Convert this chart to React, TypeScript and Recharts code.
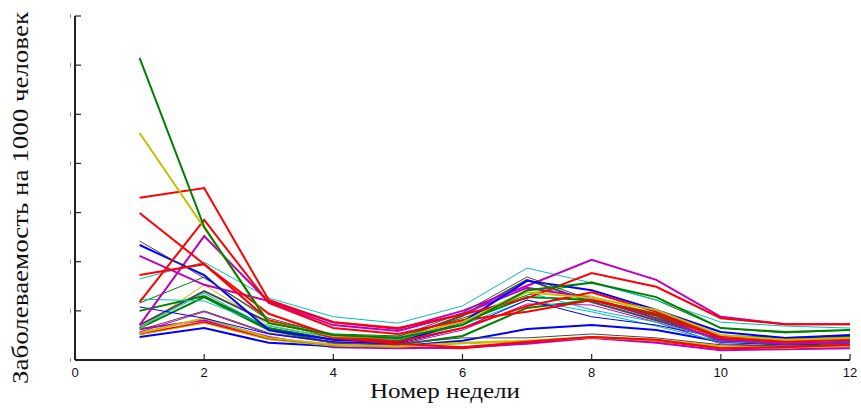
import { LineChart, Line, XAxis, YAxis } from "recharts"

const weeks = [1, 2, 3, 4, 5, 6, 7, 8, 9, 10, 11, 12]
const xTicks = [0, 2, 4, 6, 8, 10, 12]
const yTicks = [0, 10, 20, 30, 40, 50, 60, 70]

// заболеваемость по неделям (на 1000 человек)
const greenPeak = [61.5, 27.1, 7.5, 5.1, 4.5, 7.1, 14.2, 15.7, 12.8, 6.5, 5.7, 6.1]
const yellowPeak = [46.2, 26.9, 7.7, 4.9, 4.5, 7.7, 13.8, 12.6, 10.2, 5.1, 4.1, 4.5]
const redA = [33.0, 35.0, 12.2, 7.7, 6.5, 9.2, 12.6, 17.7, 14.9, 8.5, 7.3, 7.3]
const redB = [29.9, 19.5, 9.4, 4.9, 3.7, 6.5, 11.0, 13.8, 9.8, 4.9, 4.1, 4.5]
const redC = [11.8, 28.5, 11.6, 6.5, 5.3, 8.1, 9.8, 12.2, 9.2, 4.5, 3.7, 4.1]
const redD = [17.3, 19.5, 8.1, 4.5, 3.3, 2.6, 3.7, 4.7, 4.1, 2.4, 2.6, 3.1]
const grayA = [24.2, 16.7, 8.5, 5.1, 4.7, 9.6, 16.9, 12.2, 8.5, 4.9, 4.1, 4.5]
const blueA = [23.4, 17.3, 6.1, 4.1, 3.5, 7.7, 16.1, 14.2, 10.2, 5.7, 4.5, 5.1]
const magentaA = [21.2, 15.3, 12.0, 7.7, 6.3, 10.0, 15.1, 20.4, 16.3, 8.8, 7.3, 7.3]
const magentaB = [7.1, 25.2, 11.8, 7.1, 5.9, 9.4, 14.7, 12.6, 8.5, 4.1, 3.3, 3.7]
const cyanA = [16.5, 19.9, 12.6, 8.8, 7.5, 11.0, 18.7, 15.7, 12.2, 7.7, 6.9, 6.5]
const cyanB = [12.4, 12.0, 6.9, 4.5, 4.1, 7.3, 13.8, 10.2, 7.7, 4.1, 3.7, 4.1]
const greenA = [11.6, 16.9, 8.1, 5.3, 4.9, 8.5, 13.2, 15.9, 12.2, 6.5, 5.5, 6.1]
const greenB = [10.0, 13.0, 6.5, 4.1, 3.9, 7.7, 12.8, 12.2, 9.4, 4.9, 4.5, 4.9]
const blueB = [10.8, 8.5, 5.3, 3.7, 3.3, 6.5, 12.2, 8.8, 7.1, 4.5, 3.7, 4.1]
const grayB = [7.1, 14.0, 7.7, 4.9, 4.3, 9.0, 16.3, 11.8, 8.1, 4.1, 3.3, 3.7]
const cyanC = [6.7, 13.6, 6.5, 4.1, 3.7, 7.1, 12.2, 9.8, 6.9, 3.7, 3.3, 3.5]
const yellowA = [6.3, 15.3, 7.1, 4.5, 4.1, 8.1, 14.2, 13.0, 9.4, 4.5, 3.9, 4.3]
const grayC = [6.1, 10.0, 5.5, 3.7, 3.3, 4.5, 4.5, 5.3, 4.5, 3.1, 2.8, 3.1]
const magentaC = [5.7, 9.8, 5.3, 3.5, 3.1, 6.1, 11.4, 11.2, 7.7, 3.3, 2.8, 3.1]
const yellowB = [5.5, 8.5, 4.5, 3.1, 2.8, 3.5, 3.9, 4.7, 4.1, 2.8, 2.6, 3.1]
const yellowC = [5.1, 7.5, 4.1, 2.8, 2.6, 3.3, 3.7, 4.5, 3.9, 2.6, 2.4, 2.8]
const blueC = [4.7, 6.5, 3.5, 2.8, 2.8, 3.9, 6.3, 7.1, 6.1, 3.7, 3.3, 3.5]
const magentaD = [6.3, 8.1, 4.7, 2.6, 2.4, 2.6, 3.3, 4.5, 3.5, 2.0, 2.2, 2.4]
const redE = [5.3, 7.7, 4.3, 3.1, 2.6, 2.4, 3.5, 4.7, 3.9, 2.4, 2.6, 2.8]
const greenC = [6.5, 12.8, 6.1, 3.5, 3.1, 4.9, 10.6, 12.2, 9.0, 3.7, 3.1, 3.3]

const B = "#0000ff", G = "#008000", R = "#ff0000", C = "#00bfbf", M = "#bf00bf", Y = "#bfbf00", K = "#4a4a4a"
const AXIS = "#222"

const series = [
  { key: "greenC", values: greenC, color: G, width: 2 },
  { key: "redE", values: redE, color: R, width: 2 },
  { key: "magentaD", values: magentaD, color: M, width: 2 },
  { key: "blueC", values: blueC, color: B, width: 2 },
  { key: "yellowC", values: yellowC, color: Y, width: 1 },
  { key: "yellowB", values: yellowB, color: Y, width: 2 },
  { key: "magentaC", values: magentaC, color: M, width: 1 },
  { key: "grayC", values: grayC, color: K, width: 1 },
  { key: "yellowA", values: yellowA, color: Y, width: 1 },
  { key: "cyanC", values: cyanC, color: C, width: 1 },
  { key: "grayB", values: grayB, color: K, width: 2 },
  { key: "blueB", values: blueB, color: B, width: 1 },
  { key: "greenB", values: greenB, color: G, width: 2 },
  { key: "greenA", values: greenA, color: G, width: 1 },
  { key: "cyanB", values: cyanB, color: C, width: 1 },
  { key: "cyanA", values: cyanA, color: C, width: 1 },
  { key: "magentaB", values: magentaB, color: M, width: 2 },
  { key: "magentaA", values: magentaA, color: M, width: 2 },
  { key: "blueA", values: blueA, color: B, width: 2 },
  { key: "grayA", values: grayA, color: K, width: 1 },
  { key: "redD", values: redD, color: R, width: 2 },
  { key: "redC", values: redC, color: R, width: 2 },
  { key: "redB", values: redB, color: R, width: 2 },
  { key: "redA", values: redA, color: R, width: 2 },
  { key: "yellowPeak", values: yellowPeak, color: Y, width: 2 },
  { key: "greenPeak", values: greenPeak, color: G, width: 2 },
]

const data = weeks.map((w, i) => {
  const row: Record<string, number> = { week: w }
  series.forEach(s => { row[s.key] = s.values[i] })
  return row
})

const BottomTick = (props: any) => {
  const { x, y, payload } = props
  return (
    <g>
      <line x1={x} y1={y} x2={x} y2={y - 6} stroke={AXIS} strokeWidth={1.2} />
      <text x={x} y={y + 17} textAnchor="middle" fontSize={13} fontFamily="Liberation Sans, Arial, sans-serif" fill="#111">
        {payload.value}
      </text>
    </g>
  )
}

const TopTick = (props: any) => {
  const { x, y } = props
  return <line x1={x} y1={y} x2={x} y2={y + 6} stroke={AXIS} strokeWidth={1.2} />
}

const LeftTick = (props: any) => {
  const { x, y } = props
  return (
    <g>
      <line x1={x} y1={y} x2={x + 6} y2={y} stroke={AXIS} strokeWidth={1.2} />
      <line x1={x - 4.5} y1={y - 2} x2={x - 4.5} y2={y + 2} stroke="#999" strokeWidth={1} />
    </g>
  )
}

const RightTick = (props: any) => {
  const { x, y } = props
  return <line x1={x} y1={y} x2={x - 6} y2={y} stroke={AXIS} strokeWidth={1.2} />
}

export default function App() {
  return (
    <div style={{ position: "relative", width: 861, height: 412, background: "#fff" }}>
      <style>{"body { margin: 0; }"}</style>
      <LineChart
        width={861}
        height={412}
        data={data}
        margin={{ top: 16, right: 11, bottom: 0, left: 0 }}
      >
        <XAxis
          dataKey="week"
          type="number"
          domain={[0, 12]}
          ticks={xTicks}
          height={52}
          tickSize={0}
          tickMargin={0}
          tickLine={false}
          interval={0}
          axisLine={{ stroke: AXIS, strokeWidth: 2 }}
          tick={<BottomTick />}
        />
        <XAxis
          xAxisId="top"
          orientation="top"
          type="number"
          domain={[0, 12]}
          ticks={xTicks}
          height={0}
          tickSize={0}
          tickMargin={0}
          tickLine={false}
          interval={0}
          axisLine={{ stroke: AXIS, strokeWidth: 2 }}
          tick={<TopTick />}
        />
        <YAxis
          type="number"
          domain={[0, 70]}
          ticks={yTicks}
          width={75}
          tickSize={0}
          tickMargin={0}
          tickLine={false}
          interval={0}
          axisLine={{ stroke: AXIS, strokeWidth: 2 }}
          tick={<LeftTick />}
        />
        <YAxis
          yAxisId="right"
          orientation="right"
          type="number"
          domain={[0, 70]}
          ticks={yTicks}
          width={0}
          tickSize={0}
          tickMargin={0}
          tickLine={false}
          interval={0}
          axisLine={{ stroke: AXIS, strokeWidth: 2 }}
          tick={<RightTick />}
        />
        {series.map(s => (
          <Line
            key={s.key}
            dataKey={s.key}
            stroke={s.color}
            strokeWidth={s.width}
            dot={false}
            activeDot={false}
            isAnimationActive={false}
          />
        ))}
      </LineChart>
      <svg width={861} height={412} style={{ position: "absolute", left: 0, top: 0, pointerEvents: "none" }}>
        <text
          x={445}
          y={398}
          textAnchor="middle"
          fontSize={22}
          fontFamily="Liberation Serif, Times New Roman, serif"
          fill="#111"
          textLength={150}
          lengthAdjust="spacingAndGlyphs"
        >
          Номер недели
        </text>
        <text
          x={0}
          y={0}
          transform="translate(28 198) rotate(-90)"
          textAnchor="middle"
          fontSize={24}
          fontFamily="Liberation Serif, Times New Roman, serif"
          fill="#111"
          textLength={372}
          lengthAdjust="spacingAndGlyphs"
        >
          Заболеваемость на 1000 человек
        </text>
      </svg>
    </div>
  )
}
